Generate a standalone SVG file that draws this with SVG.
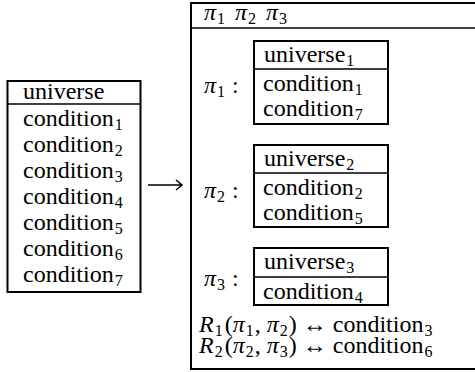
<svg xmlns="http://www.w3.org/2000/svg" width="475" height="372" viewBox="0 0 475 372">
<style>
.t{font-family:'Liberation Serif','Times New Roman',serif;font-size:24px;fill:#000}
.m{font-style:italic}
.s{font-size:16px}
.box{fill:#fff;stroke:#000;stroke-width:2}
.sep{stroke:#000;stroke-width:1.6}
.arr{fill:none;stroke:#000;stroke-width:1.5}
</style>
<rect width="475" height="372" fill="#fff"/>
<g id="source">
<rect class="box" x="7.5" y="81" width="133" height="211"/>
<line class="sep" x1="7.5" y1="104" x2="140.5" y2="104"/>
<text class="t" x="23" y="99">universe</text>
<text class="t" x="23" y="126">condition<tspan class="s" dx="1" dy="4">1</tspan></text>
<text class="t" x="23" y="152">condition<tspan class="s" dx="1" dy="4">2</tspan></text>
<text class="t" x="23" y="178">condition<tspan class="s" dx="1" dy="4">3</tspan></text>
<text class="t" x="23" y="204">condition<tspan class="s" dx="1" dy="4">4</tspan></text>
<text class="t" x="23" y="230">condition<tspan class="s" dx="1" dy="4">5</tspan></text>
<text class="t" x="23" y="256">condition<tspan class="s" dx="1" dy="4">6</tspan></text>
<text class="t" x="23" y="282">condition<tspan class="s" dx="1" dy="4">7</tspan></text>
</g>
<g id="connectors">
<path class="arr" d="M148 185 H181.5 M176 180 L182 185 L176 190"/>
</g>
<g id="target">
<rect class="box" x="191" y="3" width="290" height="366"/>
<line class="sep" x1="191" y1="28" x2="475" y2="28"/>
<text class="t" x="204" y="20"><tspan class="m">π</tspan><tspan class="s" dx="1" dy="4">1</tspan><tspan dx="10" dy="-4" class="m">π</tspan><tspan class="s" dx="1" dy="4">2</tspan><tspan dx="10" dy="-4" class="m">π</tspan><tspan class="s" dx="1" dy="4">3</tspan></text>
</g>
<g id="pi1">
<text class="t" x="204" y="93"><tspan class="m">π</tspan><tspan class="s" dx="1" dy="4">1</tspan><tspan dx="7" dy="-4">:</tspan></text>
<rect class="box" x="254" y="41" width="134" height="83"/>
<line class="sep" x1="254" y1="69" x2="388" y2="69"/>
<text class="t" x="264" y="62">universe<tspan class="s" dx="1" dy="4">1</tspan></text>
<text class="t" x="263" y="91">condition<tspan class="s" dx="1" dy="4">1</tspan></text>
<text class="t" x="263" y="116">condition<tspan class="s" dx="1" dy="4">7</tspan></text>
</g>
<g id="pi2">
<text class="t" x="204" y="198"><tspan class="m">π</tspan><tspan class="s" dx="1" dy="4">2</tspan><tspan dx="7" dy="-4">:</tspan></text>
<rect class="box" x="254" y="145" width="134" height="82"/>
<line class="sep" x1="254" y1="173" x2="388" y2="173"/>
<text class="t" x="264" y="166">universe<tspan class="s" dx="1" dy="4">2</tspan></text>
<text class="t" x="263" y="195">condition<tspan class="s" dx="1" dy="4">2</tspan></text>
<text class="t" x="263" y="220">condition<tspan class="s" dx="1" dy="4">5</tspan></text>
</g>
<g id="pi3">
<text class="t" x="204" y="286"><tspan class="m">π</tspan><tspan class="s" dx="1" dy="4">3</tspan><tspan dx="7" dy="-4">:</tspan></text>
<rect class="box" x="254" y="248" width="134" height="57"/>
<line class="sep" x1="254" y1="277" x2="388" y2="277"/>
<text class="t" x="264" y="269">universe<tspan class="s" dx="1" dy="4">3</tspan></text>
<text class="t" x="263" y="299">condition<tspan class="s" dx="1" dy="4">4</tspan></text>
</g>
<g id="relations">
<text class="t" x="199" y="332"><tspan class="m">R</tspan><tspan class="s" dx="1" dy="4">1</tspan><tspan dx="2" dy="-4">(</tspan><tspan class="m">π</tspan><tspan class="s" dx="1" dy="4">1</tspan><tspan dx="1" dy="-4">, </tspan><tspan class="m">π</tspan><tspan class="s" dx="1" dy="4">2</tspan><tspan dx="1" dy="-4">) ↔ condition</tspan><tspan class="s" dx="1" dy="4">3</tspan></text>
<text class="t" x="199" y="353"><tspan class="m">R</tspan><tspan class="s" dx="1" dy="4">2</tspan><tspan dx="2" dy="-4">(</tspan><tspan class="m">π</tspan><tspan class="s" dx="1" dy="4">2</tspan><tspan dx="1" dy="-4">, </tspan><tspan class="m">π</tspan><tspan class="s" dx="1" dy="4">3</tspan><tspan dx="1" dy="-4">) ↔ condition</tspan><tspan class="s" dx="1" dy="4">6</tspan></text>
</g>
</svg>
